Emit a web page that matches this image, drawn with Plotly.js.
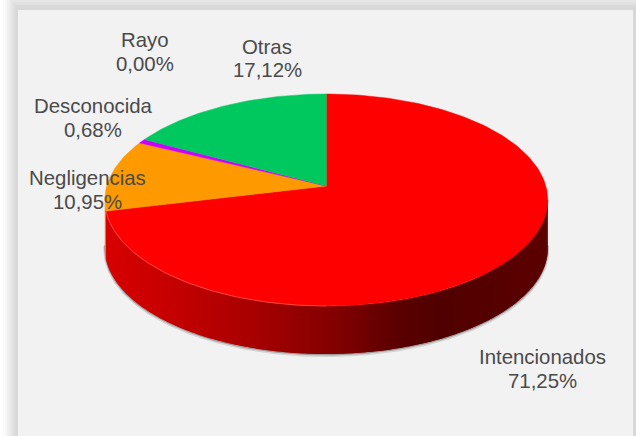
<!DOCTYPE html>
<html><head><meta charset="utf-8">
<script src="https://cdn.plot.ly/plotly-3.0.1.min.js"></script>
<style>html,body{margin:0;padding:0;background:#fff}#c{width:636px;height:436px}</style></head>
<body><div id="c"></div>
<script>
// Data
const categories = ['Intencionados','Negligencias','Desconocida','Rayo','Otras'];
const values = [71.25,10.95,0.68,0.00,17.12];
const sliceColors = ['#FF0000','#FF9900','#CC00FF','#7F7F7F','#00C85F'];
const wallSliceColors = ['#FF0000','#E08600','#A000C8','#666666','#00A04E'];

// Drawing geometry (pixel-like axes)
const W=636,H=436;
const cx=326.3, apexY=186, farY=94, nearY=306, wallDepth=48, halfWidth=221.5;
const pc=(nearY+farY-2*apexY)/(farY-nearY);   // perspective term
const a=nearY*(1+pc)-apexY;
const rxp=halfWidth*Math.sqrt(1-pc*pc);
function rim(deg,dy){const r=deg*Math.PI/180,s=Math.sin(r),t=-Math.cos(r),d=1+pc*t;
  return [cx+rxp*s/d,(a*t+apexY)/d+(dy||0)];}
function arc(d0,d1,dy){const n=Math.max(1,Math.ceil(Math.abs(d1-d0)));const o=[];
  for(let i=0;i<=n;i++)o.push(rim(d0+(d1-d0)*i/n,dy));return o;}
function hex(v){return Math.round(v).toString(16).padStart(2,'0');}
const wallStops=[[105,216],[180,194],[260,164],[340,128],[400,90],[440,80],[548,92]];
function wallRed(x){for(let i=1;i<wallStops.length;i++){if(x<=wallStops[i][0]){
  const p=wallStops[i-1],q=wallStops[i];return p[1]+(q[1]-p[1])*(x-p[0])/(q[0]-p[0]);}}
  return wallStops[wallStops.length-1][1];}

const traces=[];
function poly(pts,color){traces.push({type:'scatter',mode:'none',x:pts.map(p=>p[0]),y:pts.map(p=>p[1]),
  fill:'toself',fillcolor:color,hoverinfo:'skip',showlegend:false});}
function stroke(pts,color,w){traces.push({type:'scatter',mode:'lines',x:pts.map(p=>p[0]),y:pts.map(p=>p[1]),
  line:{color:color,width:w},hoverinfo:'skip',showlegend:false});}

const total=values.reduce((s,v)=>s+v,0);
const wallStart=97.6, wallEnd=262.4;
const redEnd=values[0]/total*360;
// soft shadow under the wall
stroke(arc(wallStart-2,wallEnd+2,wallDepth+1.6),'rgba(110,110,110,0.22)',3);
stroke(arc(wallStart-2,wallEnd+2,wallDepth+0.8),'rgba(90,90,90,0.45)',1.4);
// wall of the big slice: bands overlap so no seams appear
const bands=120, bandStep=(redEnd-wallStart)/bands;
for(let i=0;i<bands;i++){
  const d0=wallStart+i*bandStep, d1=redEnd;
  const dEnd=Math.min(d0+bandStep*2,d1);
  const top=arc(d0,dEnd,0),bot=arc(dEnd,d0,wallDepth);
  const mid=rim(d0+bandStep/2,0)[0];
  poly(top.concat(bot),'#'+hex(wallRed(mid))+'0000');
}
// wall of the next slice, a sliver at the left edge
poly(arc(redEnd,wallEnd,0).concat(arc(wallEnd,redEnd,wallDepth)),wallSliceColors[1]);
// top faces, all driven by the values
let cum=0;
values.forEach((v,i)=>{const d0=cum/total*360,d1=(cum+v)/total*360;cum+=v;
  if(v<=0)return;
  const pts=[[cx,apexY]].concat(arc(d0,d1,0));pts.push([cx,apexY]);
  traces.push({type:'scatter',mode:'lines',x:pts.map(p=>p[0]),y:pts.map(p=>p[1]),name:categories[i],
    fill:'toself',fillcolor:sliceColors[i],line:{color:sliceColors[i],width:0.5},
    hoverinfo:'name',showlegend:false});
});
// light rim on the near edge
stroke(arc(180,redEnd,0),'rgba(255,90,90,0.7)',1);
stroke(arc(wallStart,140,0),'rgba(120,0,0,0.4)',1);

// Frame
const shapes=[];
const shadowGreys=['#fbfbfb','#f7f7f7','#f2f2f2','#ececec','#e6e6e6','#e0e0e0','#dadada','#d8d8d8'];
shadowGreys.forEach((g,i)=>{shapes.push({type:'rect',layer:'below',xref:'x',yref:'y',
  x0:3+i*1.9,x1:W,y0:-10+i*2.5,y1:H,fillcolor:g,line:{width:0}});});
shapes.push({type:'rect',layer:'below',xref:'x',yref:'y',x0:18,x1:633,y0:10,y1:H,fillcolor:'#F2F2F2',line:{width:0}});

const labelX=[542,87,93,145,267];
const nameY=[357,178,106,40,47];
const valueY=[381,202,130,64,70];
const labelFont={family:'"Liberation Sans", sans-serif',size:20.4,color:'#4a4a4a'};
const annotations=[];
categories.forEach((n,i)=>{
  annotations.push({x:labelX[i],y:nameY[i],xref:'x',yref:'y',showarrow:false,text:n,xanchor:'center',yanchor:'middle',font:labelFont});
  annotations.push({x:labelX[i],y:valueY[i],xref:'x',yref:'y',showarrow:false,text:values[i].toFixed(2).replace('.',',')+'%',xanchor:'center',yanchor:'middle',font:labelFont});
});

Plotly.newPlot('c',traces,{width:W,height:H,margin:{l:0,r:0,t:0,b:0},showlegend:false,
  paper_bgcolor:'#fff',plot_bgcolor:'rgba(0,0,0,0)',
  xaxis:{range:[0,W],visible:false,fixedrange:true},
  yaxis:{range:[H,0],visible:false,fixedrange:true},
  shapes,annotations},{displayModeBar:false,staticPlot:true});
</script></body></html>
